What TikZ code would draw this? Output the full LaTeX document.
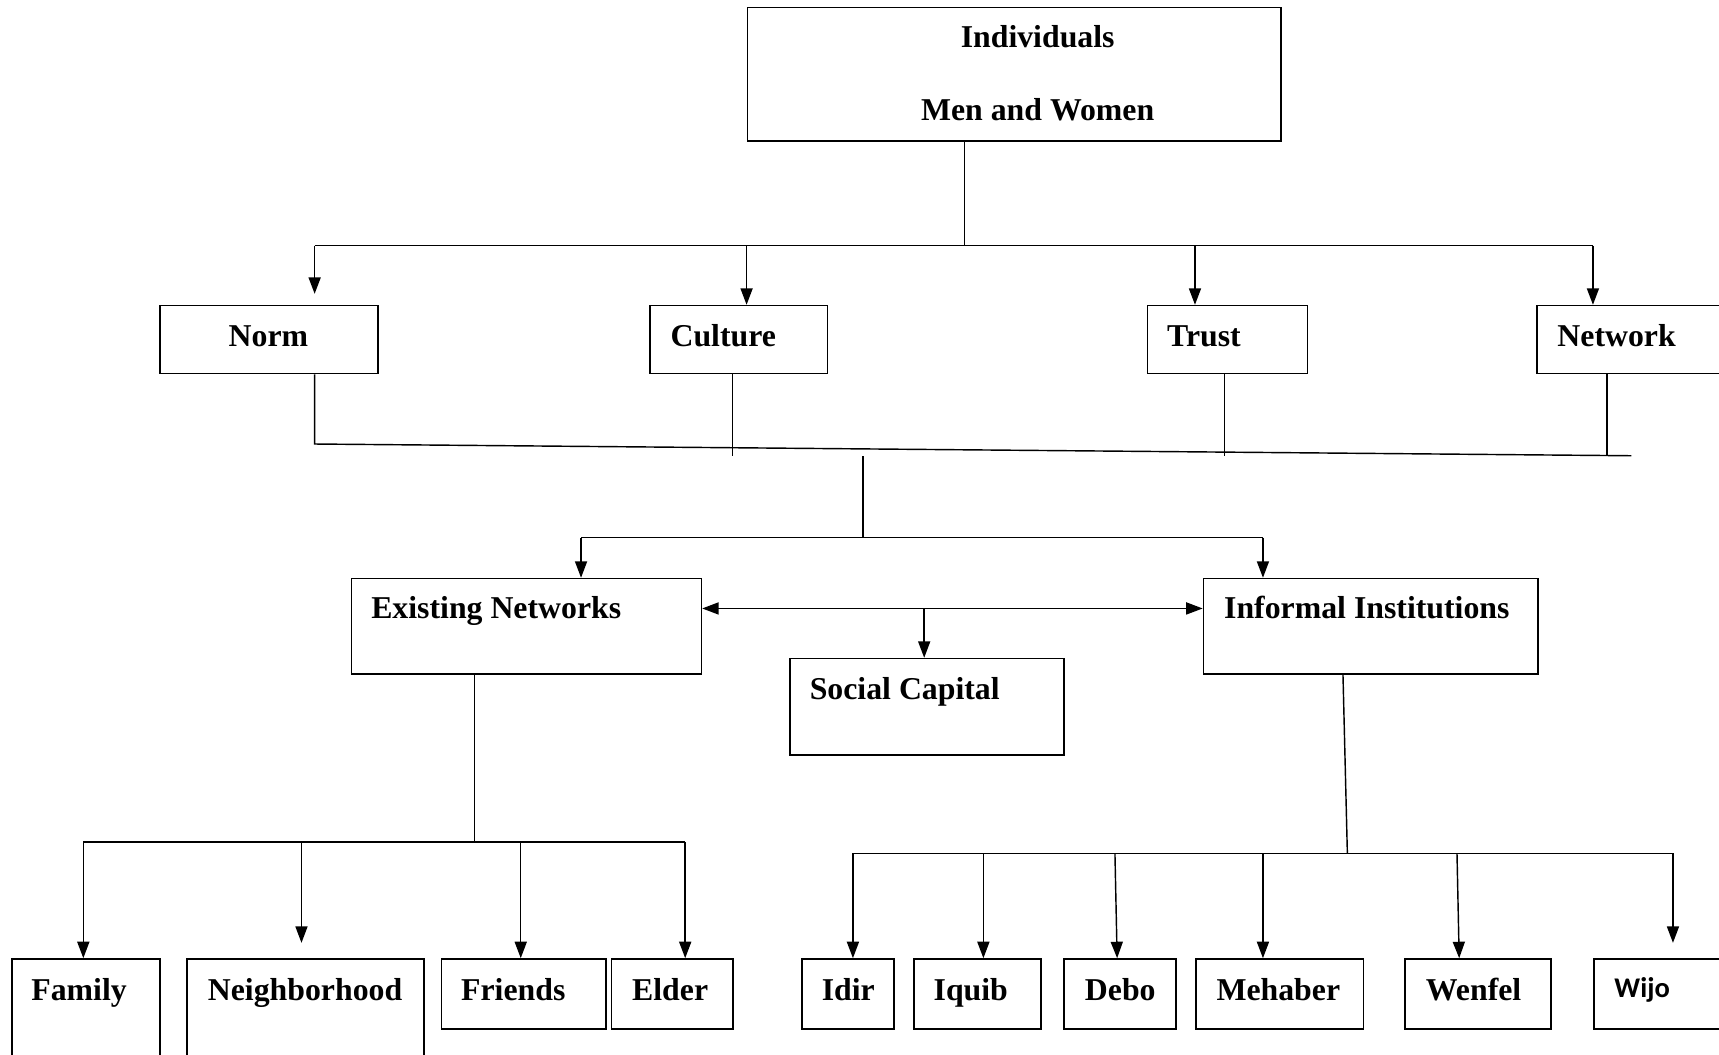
\documentclass[tikz,border=0pt]{standalone}
\usepackage{fontspec}
\setmainfont{Liberation Serif}
\newfontfamily\wijofont{Carlito}
\usetikzlibrary{arrows.meta}
\begin{document}
\begin{tikzpicture}[x=1pt,y=-1pt,line width=1.3pt,
  box/.style={draw,line width=1.5pt,rectangle,inner sep=0pt,anchor=north west},
  lbl/.style={anchor=base west,inner sep=0pt,font=\bfseries\fontsize{29}{34}\selectfont},
  clbl/.style={lbl,anchor=base},
  arr/.style={-{Triangle[length=15pt,width=11pt]}},
  dbl/.style={{Triangle[length=15pt,width=11pt]}-{Triangle[length=15pt,width=11pt]}}]
\useasboundingbox (0,0) rectangle (1568,962);
\clip (0,0) rectangle (1568,962);
% boxes
\node[box,minimum width=487pt,minimum height=122pt] (top) at (681,6) {};
\node[box,minimum width=199pt,minimum height=62pt] (norm) at (145,278) {};
\node[box,minimum width=162pt,minimum height=62pt] (culture) at (592,278) {};
\node[box,minimum width=146pt,minimum height=62pt] (trust) at (1046,278) {};
\node[box,minimum width=199pt,minimum height=62pt] (network) at (1401,278) {};
\node[box,minimum width=319pt,minimum height=87pt] (exist) at (320,527) {};
\node[box,minimum width=305pt,minimum height=87pt] (inform) at (1097,527) {};
\node[box,minimum width=250pt,minimum height=88pt] (social) at (720,600) {};
\node[box,minimum width=135pt,minimum height=126pt] (family) at (10,874) {};
\node[box,minimum width=216pt,minimum height=126pt] (neigh) at (170,874) {};
\node[box,minimum width=150pt,minimum height=64pt] (friends) at (402,874) {};
\node[box,minimum width=111pt,minimum height=64pt] (elder) at (557,874) {};
\node[box,minimum width=84pt,minimum height=64pt] (idir) at (731,874) {};
\node[box,minimum width=116pt,minimum height=64pt] (iquib) at (833,874) {};
\node[box,minimum width=102pt,minimum height=64pt] (debo) at (970,874) {};
\node[box,minimum width=153pt,minimum height=64pt] (mehaber) at (1090,874) {};
\node[box,minimum width=133pt,minimum height=64pt] (wenfel) at (1281,874) {};
\node[box,minimum width=147pt,minimum height=64pt] (wijo) at (1453,874) {};
% texts
\node[clbl] (topT1) at (946.5,43) {Individuals};
\node[clbl] (topT2) at (946.5,110) {Men and Women};
\node[lbl] (normT) at (208,316) {Norm};
\node[lbl] (cultureT) at (611,316) {Culture};
\node[lbl] (trustT) at (1064,316) {Trust};
\node[lbl] (networkT) at (1420,316) {Network};
\node[lbl] (existT) at (338,564) {Existing Networks};
\node[lbl] (informT) at (1116,564) {Informal Institutions};
\node[lbl] (socialT) at (738,638) {Social Capital};
\node[lbl] (familyT) at (28,913) {Family};
\node[lbl] (neighT) at (189,913) {Neighborhood};
\node[lbl] (friendsT) at (420,913) {Friends};
\node[lbl] (elderT) at (576,913) {Elder};
\node[lbl] (idirT) at (749,913) {Idir};
\node[lbl] (iquibT) at (851,913) {Iquib};
\node[lbl] (deboT) at (989,913) {Debo};
\node[lbl] (mehaberT) at (1109,913) {Mehaber};
\node[lbl] (wenfelT) at (1300,913) {Wenfel};
\node[lbl,font=\wijofont\bfseries\fontsize{26}{30}\selectfont] (wijoT) at (1472,910) {Wijo};
% top connectors
\coordinate (busL) at (287,224);
\coordinate (busR) at (1453,224);
\coordinate (busC) at (880,224);
\draw (880,0 |- top.south) -- (busC);
\draw (busL) -- (busR);
\draw[arr] (busL) -- (287,268);
\draw[arr] (681,224) -- (681,0 |- culture.north);
\draw[arr] (1090,224) -- (1090,0 |- trust.north);
\draw[arr] (busR) -- (1453,0 |- network.north);
% merging lines
\draw (287,0 |- norm.south) -- (287,405) -- (1488,415.7);
\draw (668,0 |- culture.south) -- (668,416);
\draw (1117,0 |- trust.south) -- (1117,416);
\draw (1466,0 |- network.south) -- (1466,415);
\draw (787,416) -- (787,490.5);
\draw (530,490.5) -- (1152,490.5);
\draw[arr] (530,490.5) -- (530,0 |- exist.north);
\draw[arr] (1152,490.5) -- (1152,0 |- inform.north);
\draw[dbl] (exist.east |- 0,555) -- (inform.west |- 0,555);
\draw[arr] (843,555) -- (843,0 |- social.north);
% left lower tree
\draw (433,0 |- exist.south) -- (433,768);
\draw (76,768) -- (625,768);
\draw[arr] (76,768) -- (76,0 |- family.north);
\draw[arr] (275,768) -- (275,860);
\draw[arr] (475,768) -- (475,0 |- friends.north);
\draw[arr] (625,768) -- (625,0 |- elder.north);
% right lower tree
\draw (1225,0 |- inform.south) -- (1229,778.5);
\draw (778,778.5) -- (1526,778.5);
\draw[arr] (778,778.5) -- (778,0 |- idir.north);
\draw[arr] (897,778.5) -- (897,0 |- iquib.north);
\draw[arr] (1017,778.5) -- (1019,0 |- debo.north);
\draw[arr] (1152,778.5) -- (1152,0 |- mehaber.north);
\draw[arr] (1329,778.5) -- (1331,0 |- wenfel.north);
\draw[arr] (1526,778.5) -- (1526,860);
\end{tikzpicture}
\end{document}
